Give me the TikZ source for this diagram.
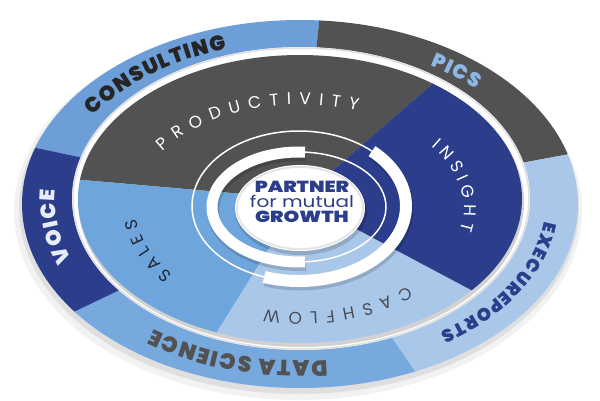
\documentclass[tikz,border=0pt]{standalone}
\usepackage{fontspec}
\setmainfont{Poppins}
\newfontfamily\heavyfont{Poppins Black}
\usetikzlibrary{calc,decorations.text}
\definecolor{navyblue}{HTML}{2B3D8B}
\definecolor{slategray}{HTML}{525252}
\definecolor{salesblue}{HTML}{6FA5DD}
\definecolor{paleblue}{HTML}{A9C7E9}
\definecolor{consultblue}{HTML}{6D9ED8}
\definecolor{datablue}{HTML}{77A9DF}
\definecolor{darkink}{HTML}{252525}
\definecolor{picsblue}{HTML}{8EB7E6}
\definecolor{voiceink}{HTML}{E6EDF8}
\definecolor{cashink}{HTML}{4A4D57}
\definecolor{salesink}{HTML}{1F2637}

\begin{document}
\begin{tikzpicture}[x=1pt,y=1pt,
    rimlabel/.style n args={3}{decorate,decoration={text effects along path,
        text={#1},text align=center,text effects/.cd,text along path,
        character widths={font=\heavyfont\fontsize{#3}{#3}\selectfont,inner xsep=0.7pt},
        characters={font=\heavyfont\fontsize{#3}{#3}\selectfont,text=#2}}},
    wheellabel/.style n args={3}{decorate,decoration={text effects along path,
        text={#1},text align=center,text effects/.cd,text along path,
        character widths={font=\fontsize{17}{17}\selectfont,inner xsep=#3},
        characters={font=\fontsize{17}{17}\selectfont,text=#2}}},
    whitearc/.style={draw=white,line width=#1},
    arcshadow/.style={draw=black,opacity=0.15,line width=#1}]
  \useasboundingbox (0,0) rectangle (600,400);
  % Define centres
  \coordinate (rimc) at (300,196);
  \coordinate (rimlab) at (300.5,198.75);
  \coordinate (gapc) at (301,201.5);
  \coordinate (wheelc) at (300,201);
  \coordinate (wheellab) at (300,191.5);
  \coordinate (ringb) at (299,194);
  \coordinate (ringa) at (299,193);
  \coordinate (discc) at (300,192);
  % Shadow under the rim
  \fill[black,opacity=0.05] ($(rimc)+(-2,-7)$) ellipse[x radius=284,y radius=189];
  \fill[black,opacity=0.08] ($(rimc)+(-1,-4)$) ellipse[x radius=280,y radius=186];
  % Outer rim
  \begin{scope}
    \clip (rimc) ellipse[x radius=278,y radius=184];
    \fill[consultblue] (rimc) -- ($(rimc)+(168:400)$) -- ($(rimc)+(126:400)$) -- ($(rimc)+(84:400)$) -- cycle;
    \fill[slategray] (rimc) -- ($(rimc)+(84:400)$) -- ($(rimc)+(47:400)$) -- ($(rimc)+(10.5:400)$) -- cycle;
    \fill[paleblue] (rimc) -- ($(rimc)+(10.5:400)$) -- ($(rimc)+(-22:400)$) -- ($(rimc)+(-55.5:400)$) -- cycle;
    \fill[datablue] (rimc) -- ($(rimc)+(-55.5:400)$) -- ($(rimc)+(-105:400)$) -- ($(rimc)+(-154.5:400)$) -- cycle;
    \fill[navyblue] (rimc) -- ($(rimc)+(205.5:400)$) -- ($(rimc)+(187:400)$) -- ($(rimc)+(168:400)$) -- cycle;
  \end{scope}
  % Gap between rim and wheel
  \fill[white] (gapc) ellipse[x radius=229,y radius=151.5];
  \draw[black!12,line width=1.5] (gapc) ellipse[x radius=228,y radius=150.5];
  \fill[black,opacity=0.18] ($(wheelc)+(1,-3)$) ellipse[x radius=223,y radius=145];
  % Wheel
  \begin{scope}
    \clip (wheelc) ellipse[x radius=222,y radius=144];
    \fill[slategray] (wheelc) -- ($(wheelc)+(41:400)$) -- ($(wheelc)+(108:400)$) -- ($(wheelc)+(175:400)$) -- cycle;
    \fill[salesblue] (wheelc) -- ($(wheelc)+(175:400)$) -- ($(wheelc)+(206:400)$) -- ($(wheelc)+(238:400)$) -- cycle;
    \fill[paleblue] (wheelc) -- ($(wheelc)+(238:400)$) -- ($(wheelc)+(285:400)$) -- ($(wheelc)+(332:400)$) -- cycle;
    \fill[navyblue] (wheelc) -- ($(wheelc)+(-28:400)$) -- ($(wheelc)+(6.5:400)$) -- ($(wheelc)+(41:400)$) -- cycle;
  \end{scope}
  % Outer ring of the hub
  \draw[arcshadow=13] ($(ringb)+(1,-3)+(47:107 and 75)$) arc[start angle=47,end angle=-109,x radius=107,y radius=75];
  \draw[whitearc=1.5] ($(ringb)+(47:107 and 75)$) arc[start angle=47,end angle=251,x radius=107,y radius=75];
  \draw[whitearc=12] ($(ringb)+(47:107 and 75)$) arc[start angle=47,end angle=-109,x radius=107,y radius=75];
  % Inner ring of the hub
  \draw[arcshadow=12] ($(ringa)+(1,-3)+(86:87 and 55)$) arc[start angle=86,end angle=274,x radius=87,y radius=55];
  \draw[whitearc=11] ($(ringa)+(86:87 and 55)$) arc[start angle=86,end angle=274,x radius=87,y radius=55];
  \draw[whitearc=1.5] ($(ringa)+(-86:87 and 55)$) arc[start angle=-86,end angle=86,x radius=87,y radius=55];
  % Hub
  \fill[black,opacity=0.15] ($(discc)+(1,-3)$) ellipse[x radius=66,y radius=44];
  \fill[white] (discc) ellipse[x radius=65,y radius=43];
  \draw[black!10,line width=2] (discc) ellipse[x radius=63,y radius=41];
  \node[text=navyblue,align=center,xscale=1.25,font=\fontsize{16}{15}\selectfont] (motto) at (302,198)
    {{\heavyfont PARTNER}\\for mutual\\{\heavyfont GROWTH}};
  % Rim labels
  \path[rimlabel={CONSULTING}{darkink}{21}] ($(rimlab)+(177:245.5 and 159.75)$) arc[start angle=177,end angle=87,x radius=245.5,y radius=159.75];
  \path[rimlabel={PICS}{picsblue}{20}] ($(rimlab)+(74.5:245.5 and 159.75)$) arc[start angle=74.5,end angle=24.5,x radius=245.5,y radius=159.75];
  \path[rimlabel={EXECUREPORTS}{navyblue}{18}] ($(rimlab)+(21:245.5 and 159.75)$) arc[start angle=21,end angle=-75,x radius=245.5,y radius=159.75];
  \path[rimlabel={DATA SCIENCE}{slategray}{22}] ($(rimlab)+(302:245.5 and 159.75)$) arc[start angle=302,end angle=202,x radius=245.5,y radius=159.75];
  \path[rimlabel={VOICE}{voiceink}{21}] ($(rimlab)+(213:245.5 and 159.75)$) arc[start angle=213,end angle=163,x radius=245.5,y radius=159.75];
  % Wheel labels
  \path[wheellabel={PRODUCTIVITY}{white}{4pt}] ($(wheellab)+(171:164 and 104)$) arc[start angle=171,end angle=51,x radius=164,y radius=104];
  \path[wheellabel={INSIGHT}{white}{2.5pt}] ($(wheellab)+(51:164 and 104)$) arc[start angle=51,end angle=-29,x radius=164,y radius=104];
  \path[wheellabel={CASHFLOW}{cashink}{4pt}] ($(wheellab)+(-29:164 and 104)$) arc[start angle=-29,end angle=-119,x radius=164,y radius=104];
  \path[wheellabel={SALES}{salesink}{2.5pt}] ($(wheellab)+(235:164 and 104)$) arc[start angle=235,end angle=165,x radius=164,y radius=104];
\end{tikzpicture}
\end{document}
